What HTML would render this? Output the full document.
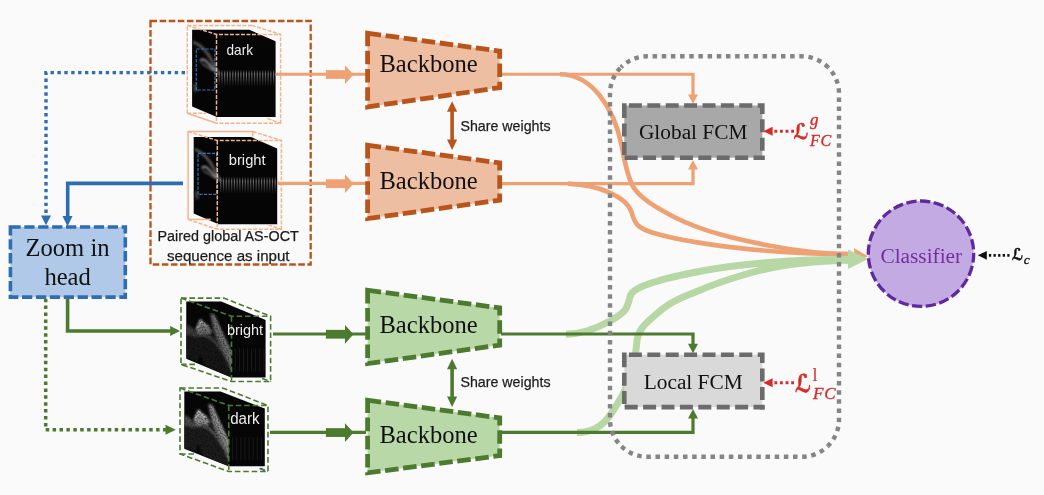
<!DOCTYPE html>
<html lang="en">
<head>
<meta charset="utf-8">
<title>Framework diagram</title>
<style>
html,body{margin:0;padding:0;background:#fafafa;}
body{width:1044px;height:495px;overflow:hidden;font-family:"Liberation Sans",sans-serif;}
svg{display:block;filter:blur(0.35px);}
</style>
</head>
<body>
<svg width="1044" height="495" viewBox="0 0 1044 495">
<rect x="0" y="0" width="1044" height="495" fill="#fafafa"/>
<defs>
<filter id="b1" x="-20%" y="-20%" width="140%" height="140%"><feGaussianBlur stdDeviation="0.8"/></filter>
<filter id="b2" x="-20%" y="-20%" width="140%" height="140%"><feGaussianBlur stdDeviation="1.6"/></filter>
<filter id="sp" x="-10%" y="-10%" width="120%" height="120%"><feGaussianBlur in="SourceGraphic" stdDeviation="0.9" result="b"/><feTurbulence type="fractalNoise" baseFrequency="0.6" numOctaves="2" seed="7" result="n"/><feColorMatrix in="n" type="matrix" values="0 0 0 0 0  0 0 0 0 0  0 0 0 0 0  1.2 0 0 0 0.25" result="na"/><feComposite in="b" in2="na" operator="in" result="c"/><feGaussianBlur in="c" stdDeviation="0.45"/></filter>
<filter id="b05" x="-20%" y="-20%" width="140%" height="140%"><feGaussianBlur stdDeviation="0.45"/></filter>
<linearGradient id="stripeV" x1="0" y1="0" x2="0" y2="1">
<stop offset="0" stop-color="#fff" stop-opacity="0"/>
<stop offset="0.25" stop-color="#fff" stop-opacity="0.42"/>
<stop offset="0.5" stop-color="#fff" stop-opacity="0.27"/>
<stop offset="1" stop-color="#fff" stop-opacity="0"/>
</linearGradient>
<linearGradient id="tissue" x1="0" y1="0" x2="1" y2="1">
<stop offset="0" stop-color="#bbb"/>
<stop offset="1" stop-color="#555"/>
</linearGradient>
</defs>
<path d="M560,74.25 C592,74.25 614,108 621.5,145 C624.5,160 627,176 633,186.5 C640,198 655,207 675,217.5 C705,232.5 740,240 770,245.8 C800,251.6 825,254 850,254.1" fill="none" stroke="#eea273" stroke-width="4.7"/>
<path d="M568,183.7 C598,185 626,196 631.5,212 C634.5,223 637,228 652,232.5 C690,244 770,254.2 850,254.4" fill="none" stroke="#eea273" stroke-width="4.7"/>
<path d="M853.8,248 L868,256.2 L855.5,262 Z" fill="#eea273"/>
<path d="M566,334.2 C582,334.2 597,328.2 610,321 C618,316.6 624,313 626.3,308 C628.3,303.5 628.9,302 629.4,299 C630.1,294 632,291.5 640.2,287.3 C648,283.5 655,281.7 660.4,280.2 C673,276.5 687,274 700,271.3 C725,266.5 760,263 790,261 C810,259.7 830,259.2 850,259.2" fill="none" stroke="#b7d7a5" stroke-width="7"/>
<path d="M577,432.5 C592,432.3 603,425.5 610,415.2 C616,406.5 621,398.5 624.5,391 C629,381 632,373 633.5,365 C635.5,356 636.3,348 637,340 C638.5,331 643,326 649,320.5 C655,315 663.5,307.2 672.5,302.2 C683,296.3 692,293.6 700,290.3 C713,284.3 730,278.8 750,273 C775,265.8 810,260.8 850,260.2" fill="none" stroke="#b7d7a5" stroke-width="7"/>
<path d="M848,249.5 L868,259 L848,268.9 Z" fill="#b7d7a5"/>
<path d="M501,74.25 H693 V96" fill="none" stroke="#eea273" stroke-width="3.2"/>
<path d="M688.0,94.5 L698.0,94.5 L693,104 Z" fill="#eea273"/>
<path d="M501,183.6 H693 V168" fill="none" stroke="#eea273" stroke-width="3.2"/>
<path d="M688.0,169.5 L698.0,169.5 L693,160 Z" fill="#eea273"/>
<path d="M501,334 H693 V345" fill="none" stroke="#4c7a2e" stroke-width="3.2"/>
<path d="M688.0,343.7 L698.0,343.7 L693,353.2 Z" fill="#4c7a2e"/>
<path d="M501,432.3 H693 V417" fill="none" stroke="#4c7a2e" stroke-width="3.2"/>
<path d="M688.0,418.5 L698.0,418.5 L693,409 Z" fill="#4c7a2e"/>
<path d="M620.95,67.25 A37.4,37.4 0 0 1 647.4,56.3 H801.6 A37.4,37.4 0 0 1 828.05,67.25" fill="none" stroke="#858585" stroke-width="4.4" stroke-dasharray="4.5 4.670" stroke-dashoffset="2.186"/>
<path d="M828.05,67.25 A37.4,37.4 0 0 1 839.0,93.69999999999999 V419.40000000000003 A37.4,37.4 0 0 1 828.05,445.85" fill="none" stroke="#858585" stroke-width="4.4" stroke-dasharray="4.5 4.650" stroke-dashoffset="3.576"/>
<path d="M828.05,445.85 A37.4,37.4 0 0 1 801.6,456.8 H647.4 A37.4,37.4 0 0 1 620.95,445.85" fill="none" stroke="#858585" stroke-width="4.4" stroke-dasharray="4.5 4.670" stroke-dashoffset="3.276"/>
<path d="M620.95,445.85 A37.4,37.4 0 0 1 610.0,419.40000000000003 V93.69999999999999 A37.4,37.4 0 0 1 620.95,67.25" fill="none" stroke="#858585" stroke-width="4.4" stroke-dasharray="4.5 4.650" stroke-dashoffset="5.476"/>
<rect x="624.3" y="105.5" width="138.00000000000003" height="52.199999999999996" fill="#a8a8a8"/>
<path d="M624.3,105.5 H762.3000000000001 V160" fill="none" stroke="#6b6b6b" stroke-width="4.6" stroke-dasharray="0 4.6 13 5.4 13 5.4 13 5.4 13 5.4 13 5.4 13 5.4 13 5.4 13 5.4 13 5.4 13 5.4 13 5.4 13 5.4 13 5.4 13 5.4 13 5.4 13 5.4 13 5.4 13 5.4"/>
<path d="M624.6999999999999,157.7 H764.6" fill="none" stroke="#6b6b6b" stroke-width="4.6" stroke-dasharray="13 5.4"/>
<path d="M624.3,103.2 V160" fill="none" stroke="#6b6b6b" stroke-width="4.6" stroke-dasharray="14.9 5.4 13 5.4 13 100"/>
<rect x="624.3" y="354.7" width="138.00000000000003" height="52.4" fill="#d9d9d9"/>
<path d="M624.3,354.7 H762.3000000000001 V409.4" fill="none" stroke="#6b6b6b" stroke-width="4.6" stroke-dasharray="0 4.6 13 5.4 13 5.4 13 5.4 13 5.4 13 5.4 13 5.4 13 5.4 13 5.4 13 5.4 13 5.4 13 5.4 13 5.4 13 5.4 13 5.4 13 5.4 13 5.4 13 5.4 13 5.4"/>
<path d="M624.6999999999999,407.09999999999997 H764.6" fill="none" stroke="#6b6b6b" stroke-width="4.6" stroke-dasharray="13 5.4"/>
<path d="M624.3,352.4 V409.4" fill="none" stroke="#6b6b6b" stroke-width="4.6" stroke-dasharray="14.9 5.4 13 5.4 13 100"/>
<text x="693.2" y="139.3" font-family="'Liberation Serif', serif" font-size="21.33" text-anchor="middle" fill="#111">Global FCM</text>
<text x="693.2" y="388.8" font-family="'Liberation Serif', serif" font-size="21.33" text-anchor="middle" fill="#111">Local FCM</text>
<line x1="774.4" y1="131.3" x2="795" y2="131.3" stroke="#d62b27" stroke-width="3" stroke-dasharray="2.8 2.8"/>
<path d="M772.5999999999999,126.80000000000001 L772.5999999999999,135.8 L763.3,131.3 Z" fill="#d62b27"/>
<line x1="774.4" y1="382.8" x2="795" y2="382.8" stroke="#d62b27" stroke-width="3" stroke-dasharray="2.8 2.8"/>
<path d="M772.5999999999999,378.3 L772.5999999999999,387.3 L763.3,382.8 Z" fill="#d62b27"/>
<text x="793.6" y="138.6" font-family="'DejaVu Sans', 'DejaVu Serif', serif" font-size="21.4" font-weight="bold" fill="#d62b27" stroke="#d62b27" stroke-width="0.65" stroke-linejoin="round" textLength="15" lengthAdjust="spacingAndGlyphs">ℒ</text>
<text x="810" y="125.4" font-family="'Liberation Serif', serif" font-style="italic" font-size="17" fill="#d62b27" stroke="#d62b27" stroke-width="0.35">g</text>
<text x="810" y="145.6" font-family="'Liberation Serif', serif" font-style="italic" font-size="16" fill="#d62b27" stroke="#d62b27" stroke-width="0.35" letter-spacing="0.8">FC</text>
<text x="795" y="392.3" font-family="'DejaVu Sans', 'DejaVu Serif', serif" font-size="24.5" font-weight="bold" fill="#d62b27" stroke="#d62b27" stroke-width="0.65" stroke-linejoin="round" textLength="16.2" lengthAdjust="spacingAndGlyphs">ℒ</text>
<text x="812.5" y="381" font-family="'Liberation Serif', serif" font-size="18" fill="#d62b27">l</text>
<text x="813" y="398.7" font-family="'Liberation Serif', serif" font-style="italic" font-size="17" fill="#d62b27" stroke="#d62b27" stroke-width="0.35" letter-spacing="0.8">FC</text>
<circle cx="921" cy="253.7" r="52.7" fill="#c4aae3" stroke="#6029a0" stroke-width="3.3" stroke-dasharray="10.3 3.497" stroke-dashoffset="1.4"/>
<text x="921.3" y="262.7" font-family="'Liberation Serif', serif" font-size="21.33" text-anchor="middle" fill="#7030a0">Classifier</text>
<line x1="988.9" y1="255.4" x2="1009.5" y2="255.4" stroke="#111" stroke-width="2.6" stroke-dasharray="2.3 2.3"/>
<path d="M986.8,250.9 L986.8,259.7 L977.8,255.3 Z" fill="#111"/>
<text x="1012.1" y="260.4" font-family="'DejaVu Sans', 'DejaVu Serif', serif" font-size="16.5" font-weight="bold" fill="#111" stroke="#111" stroke-width="0.6" stroke-linejoin="round" textLength="11.2" lengthAdjust="spacingAndGlyphs">ℒ</text>
<text x="1023.8" y="263.8" font-family="'Liberation Serif', serif" font-style="italic" font-size="13.5" fill="#111" stroke="#111" stroke-width="0.3">c</text>
<rect x="150.5" y="21" width="160.2" height="243.5" fill="none" stroke="#b9541b" stroke-width="2.3" stroke-dasharray="6.6 2.5"/>
<text x="157.5" y="241" font-family="'Liberation Sans', sans-serif" font-size="15.2" fill="#1c1c1c" stroke="#1c1c1c" stroke-width="0.25" textLength="141.3" lengthAdjust="spacingAndGlyphs">Paired global AS-OCT</text>
<text x="167" y="261" font-family="'Liberation Sans', sans-serif" font-size="15.2" fill="#1c1c1c" stroke="#1c1c1c" stroke-width="0.25" textLength="122.5" lengthAdjust="spacingAndGlyphs">sequence as input</text>
<path d="M185,72.6 H46 V216" fill="none" stroke="#2f6db3" stroke-width="3.4" stroke-dasharray="3.4 3.5"/>
<path d="M41.0,215.5 L51.0,215.5 L46,225.3 Z" fill="#2f6db3"/>
<path d="M183,183.4 H67.7 V217" fill="none" stroke="#2f6db3" stroke-width="3.6"/>
<path d="M62.5,216.0 L72.5,216.0 L67.5,226.5 Z" fill="#2f6db3"/>
<rect x="10.4" y="227.0" width="114.9" height="70.1" fill="#b1c9e8" stroke="#2f6db3" stroke-width="3.6" stroke-dasharray="10.3 3.6" stroke-dashoffset="0"/>
<text x="67.5" y="256.4" font-family="'Liberation Serif', serif" font-size="24.6" text-anchor="middle" fill="#111">Zoom in</text>
<text x="67.6" y="285.2" font-family="'Liberation Serif', serif" font-size="24.6" text-anchor="middle" fill="#111">head</text>
<path d="M67.6,298.7 V331 H171.5" fill="none" stroke="#4c7a2e" stroke-width="3.6"/>
<path d="M170.2,326.1 L170.2,335.9 L180,331 Z" fill="#4c7a2e"/>
<path d="M45.7,298.7 V429.8 H166" fill="none" stroke="#4c7a2e" stroke-width="3.5" stroke-dasharray="3.5 3.4"/>
<path d="M165.5,424.8 L165.5,434.8 L175.8,429.8 Z" fill="#4c7a2e"/>
<path d="M192.10,29.75 L249.40,29.75 L275.60,41.25 L275.60,117.00 L216.90,117.00 L192.10,106.40 Z" fill="#050505"/>
<g filter="url(#b1)" fill="none"><path d="M193.20,42.00 C201.00,45.00 208.00,53.00 212.00,61.00 S216.50,70.00 218.50,74.00" stroke="#585858" stroke-width="2.6"/><path d="M200.60,61.40 C200.50,58.80 204.00,58.60 207.00,62.00 S212.50,67.50 215.50,71.50" stroke="#a8a8a8" stroke-width="1.7"/><path d="M201.50,63.00 C205.00,66.00 209.00,67.50 213.00,71.00" stroke="#6a6a6a" stroke-width="1.2"/><path d="M194.50,84.00 L196.00,92.00" stroke="#3c3c3c" stroke-width="3.5"/></g>
<g filter="url(#b05)"><rect x="218.60" y="69.50" width="1.2" height="17" fill="url(#stripeV)"/><rect x="221.32" y="69.50" width="1.2" height="17" fill="url(#stripeV)"/><rect x="224.04" y="69.50" width="1.2" height="17" fill="url(#stripeV)"/><rect x="226.76" y="69.50" width="1.2" height="17" fill="url(#stripeV)"/><rect x="229.48" y="69.50" width="1.2" height="17" fill="url(#stripeV)"/><rect x="232.20" y="69.50" width="1.2" height="17" fill="url(#stripeV)"/><rect x="234.92" y="69.50" width="1.2" height="17" fill="url(#stripeV)"/><rect x="237.64" y="69.50" width="1.2" height="17" fill="url(#stripeV)"/><rect x="240.36" y="69.50" width="1.2" height="17" fill="url(#stripeV)"/><rect x="243.08" y="69.50" width="1.2" height="17" fill="url(#stripeV)"/><rect x="245.80" y="69.50" width="1.2" height="17" fill="url(#stripeV)"/><rect x="248.52" y="69.50" width="1.2" height="17" fill="url(#stripeV)"/><rect x="251.24" y="69.50" width="1.2" height="17" fill="url(#stripeV)"/><rect x="253.96" y="69.50" width="1.2" height="17" fill="url(#stripeV)"/><rect x="256.68" y="69.50" width="1.2" height="17" fill="url(#stripeV)"/><rect x="259.40" y="69.50" width="1.2" height="17" fill="url(#stripeV)"/><rect x="262.12" y="69.50" width="1.2" height="17" fill="url(#stripeV)"/><rect x="264.84" y="69.50" width="1.2" height="17" fill="url(#stripeV)"/><rect x="267.56" y="69.50" width="1.2" height="17" fill="url(#stripeV)"/><rect x="270.28" y="69.50" width="1.2" height="17" fill="url(#stripeV)"/><rect x="273.00" y="69.50" width="1.2" height="17" fill="url(#stripeV)"/></g>
<rect x="196.3" y="49" width="18.6" height="41" fill="none" stroke="#3373bd" stroke-width="1.15" stroke-dasharray="3.3 1.3"/>
<g fill="none" stroke="#f3b48c" stroke-width="1.45"><path d="M187.30,113.30 V25.40 H251.90" stroke-dasharray="4 1.5"/><path d="M251.90,25.40 L280.60,34.40 V123.20 H216.50" stroke-dasharray="4 1.5"/><path d="M187.30,25.40 L216.50,34.40 H280.60" stroke-dasharray="4 1.5"/><path d="M216.50,34.40 V123.20" stroke-dasharray="4 1.5"/><path d="M187.30,113.30 L216.50,123.20"/><path d="M187.30,113.30 H206.00" stroke-dasharray="4 1.5"/><path d="M267.50,118.50 L280.60,123.20" stroke-dasharray="4 1.5"/></g>
<text x="226.5" y="54.75" font-family="'Liberation Sans', sans-serif" font-size="14.4" fill="#ededed" textLength="26.5" lengthAdjust="spacingAndGlyphs">dark</text>
<path d="M193.70,136.95 L251.00,136.95 L277.20,148.45 L277.20,224.20 L218.50,224.20 L193.70,213.60 Z" fill="#050505"/>
<g filter="url(#b1)" fill="none"><path d="M194.80,149.20 C202.60,152.20 209.60,160.20 213.60,168.20 S218.10,177.20 220.10,181.20" stroke="#585858" stroke-width="2.6"/><path d="M202.20,168.60 C202.10,166.00 205.60,165.80 208.60,169.20 S214.10,174.70 217.10,178.70" stroke="#a8a8a8" stroke-width="1.7"/><path d="M203.10,170.20 C206.60,173.20 210.60,174.70 214.60,178.20" stroke="#6a6a6a" stroke-width="1.2"/><path d="M196.10,191.20 L197.60,199.20" stroke="#3c3c3c" stroke-width="3.5"/></g>
<g filter="url(#b05)"><rect x="220.20" y="176.70" width="1.2" height="17" fill="url(#stripeV)"/><rect x="222.92" y="176.70" width="1.2" height="17" fill="url(#stripeV)"/><rect x="225.64" y="176.70" width="1.2" height="17" fill="url(#stripeV)"/><rect x="228.36" y="176.70" width="1.2" height="17" fill="url(#stripeV)"/><rect x="231.08" y="176.70" width="1.2" height="17" fill="url(#stripeV)"/><rect x="233.80" y="176.70" width="1.2" height="17" fill="url(#stripeV)"/><rect x="236.52" y="176.70" width="1.2" height="17" fill="url(#stripeV)"/><rect x="239.24" y="176.70" width="1.2" height="17" fill="url(#stripeV)"/><rect x="241.96" y="176.70" width="1.2" height="17" fill="url(#stripeV)"/><rect x="244.68" y="176.70" width="1.2" height="17" fill="url(#stripeV)"/><rect x="247.40" y="176.70" width="1.2" height="17" fill="url(#stripeV)"/><rect x="250.12" y="176.70" width="1.2" height="17" fill="url(#stripeV)"/><rect x="252.84" y="176.70" width="1.2" height="17" fill="url(#stripeV)"/><rect x="255.56" y="176.70" width="1.2" height="17" fill="url(#stripeV)"/><rect x="258.28" y="176.70" width="1.2" height="17" fill="url(#stripeV)"/><rect x="261.00" y="176.70" width="1.2" height="17" fill="url(#stripeV)"/><rect x="263.72" y="176.70" width="1.2" height="17" fill="url(#stripeV)"/><rect x="266.44" y="176.70" width="1.2" height="17" fill="url(#stripeV)"/><rect x="269.16" y="176.70" width="1.2" height="17" fill="url(#stripeV)"/><rect x="271.88" y="176.70" width="1.2" height="17" fill="url(#stripeV)"/><rect x="274.60" y="176.70" width="1.2" height="17" fill="url(#stripeV)"/></g>
<rect x="198.0" y="153.3" width="18.6" height="41" fill="none" stroke="#3373bd" stroke-width="1.15" stroke-dasharray="3.3 1.3"/>
<g fill="none" stroke="#f3b48c" stroke-width="1.5"><path d="M188.10,219.40 V131.50 H252.70" /><path d="M252.70,131.50 L281.40,140.50 V229.30 H217.30" stroke-dasharray="4 1.5"/><path d="M188.10,131.50 L217.30,140.50 H281.40" stroke-dasharray="4 1.5"/><path d="M217.30,140.50 V229.30" stroke-dasharray="4 1.5"/><path d="M188.10,219.40 L217.30,229.30" stroke-dasharray="4 1.5"/><path d="M188.10,219.40 H210.80"/><path d="M252.70,131.50 V136.60"/><path d="M268.30,224.60 L281.40,229.30" stroke-dasharray="4 1.5"/></g>
<text x="228.75" y="164.5" font-family="'Liberation Sans', sans-serif" font-size="14.4" fill="#ededed" textLength="36.9" lengthAdjust="spacingAndGlyphs">bright</text>
<path d="M186.25,301.60 L221.25,301.60 L265.60,320.00 L265.60,377.50 L231.25,377.50 L186.25,358.75 Z" fill="#060606"/>
<clipPath id="clipL1862"><path d="M186.25,301.60 L231.25,320.00 L231.25,377.50 L186.25,358.75 Z"/></clipPath>
<g clip-path="url(#clipL1862)"><g filter="url(#sp)"><path d="M185.00,324.50 C190.00,325.00 194.00,328.50 197.00,334.00 L197.50,338.00 L192.00,337.50 L185.00,334.50 Z" fill="#3e3e3e"/><path d="M185.00,334.00 L198.00,338.00 L200.00,352.00 L198.00,362.00 L185.00,357.00 Z" fill="#161616"/><path d="M198.00,336.00 L212.00,333.00 L229.00,354.00 L232.00,378.00 L205.00,366.00 L199.00,350.00 Z" fill="#181818"/><path d="M210.00,313.50 L213.50,314.00 L224.00,337.00 L232.00,353.00 L232.00,372.00 L226.00,357.00 L214.00,332.00 Z" fill="#696969"/><path d="M213.50,314.50 L224.00,337.00 L231.50,353.00 L231.50,368.00" stroke="#aaaaaa" stroke-width="1.1" fill="none"/><path d="M200.50,319.60 L204.00,323.00 L208.00,326.00 L212.50,331.00 L209.00,334.50 L204.00,333.50 L198.00,335.50 L196.00,329.00 Z" fill="#737373"/><path d="M196.30,329.50 L200.50,319.80 L204.50,324.00 L209.00,327.00" stroke="#dcdcdc" stroke-width="1.3" fill="none"/><path d="M198.00,335.50 C204.00,333.50 210.00,336.00 216.00,343.00 S226.00,356.00 230.00,366.00" stroke="#555555" stroke-width="1.6" fill="none"/></g></g>
<rect x="234.75" y="348.50" width="0.9" height="23" fill="#fff" opacity="0.09"/><rect x="238.85" y="348.50" width="0.9" height="23" fill="#fff" opacity="0.09"/><rect x="242.95" y="348.50" width="0.9" height="23" fill="#fff" opacity="0.09"/><rect x="247.05" y="348.50" width="0.9" height="23" fill="#fff" opacity="0.09"/><rect x="251.15" y="348.50" width="0.9" height="23" fill="#fff" opacity="0.09"/><rect x="255.25" y="348.50" width="0.9" height="23" fill="#fff" opacity="0.09"/><rect x="259.35" y="348.50" width="0.9" height="23" fill="#fff" opacity="0.09"/><rect x="263.45" y="348.50" width="0.9" height="23" fill="#fff" opacity="0.09"/>
<g fill="none" stroke="#4c7a2e" stroke-width="1.6"><path d="M181,298.1 H223.75 L270.6,316.25 V381.5 H231.5 L181,364.4 Z" stroke-dasharray="5.6 2.8"/><path d="M181,298.1 L231.5,316.25 H270.6" stroke-dasharray="5.6 2.8"/><path d="M231.5,316.25 V381.5" stroke-dasharray="5.6 2.8"/><path d="M181,364.4 H197" stroke-dasharray="5.6 2.8"/><path d="M262.1,378.5 L270.6,381.5" stroke-dasharray="5.6 2.8"/></g>
<text x="226.9" y="335.2" font-family="'Liberation Sans', sans-serif" font-size="14.4" fill="#ededed" textLength="36.2" lengthAdjust="spacingAndGlyphs">bright</text>
<path d="M184.30,391.40 L220.50,391.40 L264.80,408.60 L264.80,466.20 L228.70,466.20 L184.30,448.70 Z" fill="#060606"/>
<clipPath id="clipL1843"><path d="M184.30,391.40 L228.70,408.60 L228.70,466.20 L184.30,448.70 Z"/></clipPath>
<g clip-path="url(#clipL1843)"><g filter="url(#sp)"><path d="M183.00,415.00 C188.00,415.50 192.00,419.00 195.00,424.50 L195.50,428.50 L190.00,428.00 L183.00,425.00 Z" fill="#4d4d4d"/><path d="M183.00,424.50 L196.00,428.50 L198.00,442.50 L196.00,452.50 L183.00,447.50 Z" fill="#1b1b1b"/><path d="M196.00,426.50 L210.00,423.50 L227.00,444.50 L230.00,468.50 L203.00,456.50 L197.00,440.50 Z" fill="#1e1e1e"/><path d="M208.00,404.00 L211.50,404.50 L222.00,427.50 L230.00,443.50 L230.00,462.50 L224.00,447.50 L212.00,422.50 Z" fill="#838383"/><path d="M211.50,405.00 L222.00,427.50 L229.50,443.50 L229.50,458.50" stroke="#d4d4d4" stroke-width="1.1" fill="none"/><path d="M198.50,410.10 L202.00,413.50 L206.00,416.50 L210.50,421.50 L207.00,425.00 L202.00,424.00 L196.00,426.00 L194.00,419.50 Z" fill="#8f8f8f"/><path d="M194.30,420.00 L198.50,410.30 L202.50,414.50 L207.00,417.50" stroke="#ffffff" stroke-width="1.3" fill="none"/><path d="M196.00,426.00 C202.00,424.00 208.00,426.50 214.00,433.50 S224.00,446.50 228.00,456.50" stroke="#6a6a6a" stroke-width="1.6" fill="none"/></g></g>
<rect x="232.20" y="437.20" width="0.9" height="23" fill="#fff" opacity="0.09"/><rect x="236.30" y="437.20" width="0.9" height="23" fill="#fff" opacity="0.09"/><rect x="240.40" y="437.20" width="0.9" height="23" fill="#fff" opacity="0.09"/><rect x="244.50" y="437.20" width="0.9" height="23" fill="#fff" opacity="0.09"/><rect x="248.60" y="437.20" width="0.9" height="23" fill="#fff" opacity="0.09"/><rect x="252.70" y="437.20" width="0.9" height="23" fill="#fff" opacity="0.09"/><rect x="256.80" y="437.20" width="0.9" height="23" fill="#fff" opacity="0.09"/><rect x="260.90" y="437.20" width="0.9" height="23" fill="#fff" opacity="0.09"/>
<g fill="none" stroke="#4c7a2e" stroke-width="1.6"><path d="M180,388 H222.5 L268,405.5 V471.5 H228.75 L180,454 Z" stroke-dasharray="5.6 2.8"/><path d="M180,388 L228.75,405.5 H268" stroke-dasharray="5.6 2.8"/><path d="M228.75,405.5 V471.5" stroke-dasharray="5.6 2.8"/><path d="M180,454 H196" stroke-dasharray="5.6 2.8"/><path d="M259.5,468.5 L268,471.5" stroke-dasharray="5.6 2.8"/></g>
<text x="230.2" y="423.6" font-family="'Liberation Sans', sans-serif" font-size="15.6" fill="#ededed" textLength="29.4" lengthAdjust="spacingAndGlyphs">dark</text>
<path d="M260.5,468 L265,470.6" stroke="#3b5fb0" stroke-width="1.3"/>
<line x1="275.6" y1="74.25" x2="366" y2="74.25" stroke="#eea273" stroke-width="3.2"/>
<rect x="325.9" y="70.125" width="19.600000000000023" height="8.75" fill="#eea273"/>
<path d="M345,65.125 L353.5,74.5 L345,83.875 Z" fill="#eea273"/>
<line x1="276.9" y1="183.4" x2="366" y2="183.4" stroke="#eea273" stroke-width="3.2"/>
<rect x="325.9" y="179.275" width="19.600000000000023" height="8.75" fill="#eea273"/>
<path d="M345,174.275 L353.5,183.65 L345,193.025 Z" fill="#eea273"/>
<line x1="273" y1="334" x2="366" y2="334" stroke="#4c7a2e" stroke-width="3.2"/>
<rect x="325.9" y="329.875" width="19.600000000000023" height="8.75" fill="#4c7a2e"/>
<path d="M345,324.875 L353.5,334.25 L345,343.625 Z" fill="#4c7a2e"/>
<line x1="270" y1="432.3" x2="366" y2="432.3" stroke="#4c7a2e" stroke-width="3.2"/>
<rect x="325.9" y="428.175" width="19.600000000000023" height="8.75" fill="#4c7a2e"/>
<path d="M345,423.175 L353.5,432.55 L345,441.925 Z" fill="#4c7a2e"/>
<path d="M367.60,33.20 L499.70,51.15 L499.70,87.60 L367.60,106.90 Z" fill="#edbea1" stroke="#b9541b" stroke-width="4.8" stroke-dasharray="13.6 4.6" stroke-linejoin="miter"/>
<path d="M367.60,145.20 L499.70,162.90 L499.70,200.10 L367.60,218.55 Z" fill="#edbea1" stroke="#b9541b" stroke-width="4.8" stroke-dasharray="13.6 4.6" stroke-linejoin="miter"/>
<path d="M367.60,290.20 L499.70,307.90 L499.70,345.10 L367.60,363.55 Z" fill="#b9d8a8" stroke="#4c7a2e" stroke-width="4.8" stroke-dasharray="13.6 4.6" stroke-linejoin="miter"/>
<path d="M367.60,400.20 L499.70,417.90 L499.70,455.60 L367.60,472.80 Z" fill="#b9d8a8" stroke="#4c7a2e" stroke-width="4.8" stroke-dasharray="13.6 4.6" stroke-linejoin="miter"/>
<text x="379.4" y="72.1" font-family="'Liberation Serif', serif" font-size="24.6" fill="#111">Backbone</text>
<text x="379.4" y="188.6" font-family="'Liberation Serif', serif" font-size="24.6" fill="#111">Backbone</text>
<text x="379.4" y="332.9" font-family="'Liberation Serif', serif" font-size="24.6" fill="#111">Backbone</text>
<text x="379.4" y="443.2" font-family="'Liberation Serif', serif" font-size="24.6" fill="#111">Backbone</text>
<line x1="452.1" y1="110.25" x2="452.1" y2="141" stroke="#b9541b" stroke-width="3.6"/>
<path d="M447.0,111.65 L457.20000000000005,111.65 L452.1,101.25 Z" fill="#b9541b"/>
<path d="M447.0,139.6 L457.20000000000005,139.6 L452.1,150 Z" fill="#b9541b"/>
<text x="460.5" y="130.5" font-family="'Liberation Sans', sans-serif" font-size="15.2" fill="#1c1c1c" stroke="#1c1c1c" stroke-width="0.25" textLength="90" lengthAdjust="spacingAndGlyphs">Share weights</text>
<line x1="452.1" y1="367.75" x2="452.1" y2="398" stroke="#4c7a2e" stroke-width="3.6"/>
<path d="M447.0,369.15 L457.20000000000005,369.15 L452.1,358.75 Z" fill="#4c7a2e"/>
<path d="M447.0,396.6 L457.20000000000005,396.6 L452.1,407 Z" fill="#4c7a2e"/>
<text x="460.5" y="387" font-family="'Liberation Sans', sans-serif" font-size="15.2" fill="#1c1c1c" stroke="#1c1c1c" stroke-width="0.25" textLength="90" lengthAdjust="spacingAndGlyphs">Share weights</text>
</svg>
</body>
</html>
